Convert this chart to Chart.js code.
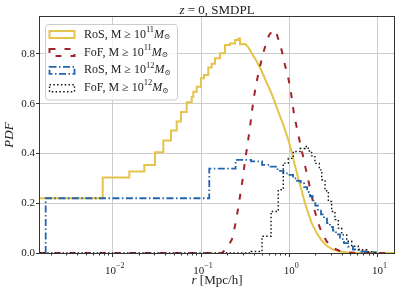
<!DOCTYPE html>
<html><head><meta charset="utf-8">
<script src="https://cdn.jsdelivr.net/npm/chart.js@4/dist/chart.umd.min.js"></script>
<style>html,body{margin:0;padding:0;background:#fff}#wrap{width:399px;height:290px}</style>
</head><body><div id="wrap"><canvas id="c" width="399" height="290"></canvas></div>
<script>
// ---- text ----
const chartTitleItalic = 'z';
const chartTitleRest = ' = 0, SMDPL';
const xLabelItalic = 'r';
const xLabelRest = ' [Mpc/h]';
const yLabel = 'PDF';
const legendNames = ['RoS', 'FoF', 'RoS', 'FoF'];
const legendExps = ['11', '11', '12', '12'];

// ---- ticks ----
const xTickValues = [0.01, 0.1, 1, 10];
const xTickExps = ['\u22122', '\u22121', '0', '1'];
const yTickValues = [0, 0.2, 0.4, 0.6, 0.8];

// ---- RoS, M >= 1e11 (step bins, then fine-binned part read as a curve) ----
const rosM11Edges = [0.0003, 0.0077, 0.01542, 0.0228, 0.03013, 0.03741, 0.04571, 0.05303, 0.05933, 0.06881, 0.07845, 0.08178, 0.08935, 0.1, 0.1081, 0.1209, 0.1322, 0.1441, 0.1642, 0.187, 0.213, 0.2425, 0.2644, 0.2768];
const rosM11Values = [0.22, 0.303, 0.327, 0.353, 0.405, 0.452, 0.492, 0.528, 0.566, 0.606, 0.628, 0.648, 0.668, 0.702, 0.715, 0.745, 0.76, 0.782, 0.802, 0.836, 0.842, 0.856, 0.862];
const rosM11CurveR = [0.2768, 0.315, 0.3403, 0.378, 0.420, 0.487, 0.545, 0.605, 0.671, 0.751, 0.855, 0.974, 1.065, 1.160, 1.264, 1.382, 1.506, 1.641, 1.793, 2.043, 2.327, 2.673, 3.125, 3.752, 4.623, 6.0, 20];
const rosM11CurveV = [0.838, 0.840, 0.828, 0.80, 0.775, 0.73, 0.69, 0.655, 0.615, 0.568, 0.515, 0.455, 0.405, 0.35, 0.30, 0.25, 0.20, 0.16, 0.12, 0.08, 0.05, 0.028, 0.014, 0.006, 0.002, 0, 0];

// ---- FoF, M >= 1e11 (fine bins, read as a curve) ----
const fofM11R = [0.001, 0.173, 0.182, 0.202, 0.224, 0.243, 0.262, 0.280, 0.299, 0.315, 0.336, 0.359, 0.378, 0.398, 0.431, 0.466, 0.504, 0.545, 0.590, 0.637, 0.689, 0.726, 0.764, 0.826, 0.893, 0.966, 1.044, 1.129, 1.221, 1.320, 1.428, 1.544, 1.670, 1.806, 1.953, 2.112, 2.344, 2.672, 3.125, 3.75, 4.62, 5.69, 20];
const fofM11V = [0, 0, 0.008, 0.025, 0.055, 0.11, 0.175, 0.24, 0.305, 0.37, 0.435, 0.505, 0.57, 0.628, 0.695, 0.75, 0.80, 0.842, 0.875, 0.89, 0.896, 0.876, 0.85, 0.81, 0.755, 0.71, 0.645, 0.56, 0.50, 0.445, 0.39, 0.335, 0.28, 0.225, 0.167, 0.122, 0.08, 0.045, 0.02, 0.008, 0.002, 0, 0];

// ---- RoS, M >= 1e12 (step bins) ----
const rosM12Edges = [0.00174, 0.124, 0.2465, 0.369, 0.4915, 0.614, 0.7365, 0.859, 0.9815, 1.104, 1.2265, 1.349, 1.4715, 1.594, 1.7165, 1.839, 1.970, 2.113, 2.286, 2.472, 2.673, 2.890, 3.126, 3.380, 3.75, 4.16, 4.62, 5.26, 6.32, 7.79, 9.59];
const rosM12Values = [0.22, 0.339, 0.374, 0.368, 0.354, 0.347, 0.33, 0.32, 0.314, 0.30, 0.29, 0.28, 0.265, 0.245, 0.228, 0.21, 0.19, 0.17, 0.155, 0.138, 0.12, 0.105, 0.09, 0.075, 0.056, 0.04, 0.026, 0.014, 0.006, 0.002];

// ---- FoF, M >= 1e12 (step bins) ----
const fofM12Edges = [0.001, 0.37, 0.491, 0.621, 0.750, 0.855, 0.974, 1.11, 1.32, 1.51, 1.64, 1.79, 1.95, 2.19, 2.33, 2.54, 2.77, 3.02, 3.29, 3.59, 3.92, 4.47, 5.09, 6.04, 7.53, 9.35];
const fofM12Values = [0, 0.006, 0.067, 0.167, 0.254, 0.361, 0.38, 0.408, 0.42, 0.428, 0.41, 0.39, 0.36, 0.334, 0.294, 0.25, 0.207, 0.167, 0.134, 0.1, 0.073, 0.047, 0.027, 0.013, 0.005];

// ---- styles ----
const FONT = "'Liberation Serif', 'DejaVu Serif', serif";
const seriesStyles = [
  {color: '#e5c44c', width: 2, dash: []},
  {color: '#a3232b', width: 2, dash: [6, 9]},
  {color: '#2464ae', width: 1.8, dash: [7, 2.5, 1.5, 2.5]},
  {color: '#111111', width: 1.4, dash: [1.5, 2.3]}
];

function stepPoints(edges, values, closeEnd) {
  const pts = [{x: edges[0], y: 0}];
  for (let i = 0; i < values.length; i++) {
    pts.push({x: edges[i], y: values[i]});
    pts.push({x: edges[i + 1], y: values[i]});
  }
  if (closeEnd) pts.push({x: edges[edges.length - 1], y: 0});
  return pts;
}
function curvePoints(rs, vs) { return rs.map((r, i) => ({x: r, y: vs[i]})); }

const seriesData = [
  stepPoints(rosM11Edges, rosM11Values, false).concat(curvePoints(rosM11CurveR, rosM11CurveV)),
  curvePoints(fofM11R, fofM11V),
  stepPoints(rosM12Edges, rosM12Values, true),
  stepPoints(fofM12Edges, fofM12Values, true)
];

const datasets = seriesData.map((d, i) => ({
  data: d,
  borderColor: seriesStyles[i].color,
  borderWidth: seriesStyles[i].width,
  borderDash: seriesStyles[i].dash,
  borderCapStyle: 'butt',
  borderJoinStyle: 'miter',
  pointRadius: 0,
  tension: 0,
  fill: false,
  order: 4 - i
}));

function isDecade(v) {
  const l = Math.log10(v);
  return Math.abs(l - Math.round(l)) < 1e-6;
}
function align(p) { return Math.round(p - 0.5) + 0.5; }

function drawRich(ctx, parts, x, y, mode) {
  let total = 0;
  parts.forEach(p => {
    ctx.font = (p.italic ? 'italic ' : '') + p.size + 'px ' + FONT;
    p.w = ctx.measureText(p.t).width;
    total += p.w;
  });
  let cx = mode === 'center' ? x - total / 2 : x;
  ctx.textBaseline = 'middle';
  ctx.textAlign = 'left';
  parts.forEach(p => {
    ctx.font = (p.italic ? 'italic ' : '') + p.size + 'px ' + FONT;
    ctx.fillText(p.t, cx, y + (p.dy || 0));
    cx += p.w;
  });
}

const decor = {
  id: 'decor',
  afterDraw(chart) {
    const {ctx, chartArea: a, scales} = chart;
    const xs = scales.x, ys = scales.y;
    ctx.save();
    // frame
    ctx.strokeStyle = '#333';
    ctx.lineWidth = 1;
    ctx.setLineDash([]);
    ctx.strokeRect(a.left - 0.5, a.top - 0.5, a.right - a.left + 1, a.bottom - a.top + 1);
    // y ticks
    ctx.beginPath();
    yTickValues.forEach(v => {
      const py = align(ys.getPixelForValue(v));
      ctx.moveTo(a.left - 0.5, py); ctx.lineTo(a.left - 4, py);
    });
    // x ticks (major + minor)
    for (let e = -4; e <= 2; e++) {
      for (let m = 1; m <= 9; m++) {
        const v = m * Math.pow(10, e);
        if (v < xs.min || v > xs.max) continue;
        const px = align(xs.getPixelForValue(v));
        ctx.moveTo(px, a.bottom + 0.5);
        ctx.lineTo(px, a.bottom + (m === 1 ? 4 : 2.5));
      }
    }
    ctx.stroke();
    // x tick labels
    ctx.fillStyle = '#222';
    xTickValues.forEach((v, i) => {
      drawRich(ctx, [{t: '10', size: 11}, {t: xTickExps[i], size: 8, dy: -5}], xs.getPixelForValue(v) + 2, 271, 'center');
    });
    // axis labels
    drawRich(ctx, [{t: xLabelItalic, size: 13, italic: true}, {t: xLabelRest, size: 13}], (a.left + a.right) / 2, 281, 'center');
    ctx.save();
    ctx.translate(10, (a.top + a.bottom) / 2);
    ctx.rotate(-Math.PI / 2);
    drawRich(ctx, [{t: yLabel, size: 13, italic: true}], 0, 0, 'center');
    ctx.restore();
    // title
    drawRich(ctx, [{t: chartTitleItalic, size: 13, italic: true}, {t: chartTitleRest, size: 13}], (a.left + a.right) / 2, 11, 'center');
    // legend
    ctx.beginPath();
    ctx.roundRect(45.5, 24.5, 132, 75.5, 3);
    ctx.fillStyle = 'rgba(255,255,255,0.8)';
    ctx.fill();
    ctx.strokeStyle = '#cccccc';
    ctx.lineWidth = 1;
    ctx.stroke();
    const rowY = [34.5, 52.5, 70.3, 88.2];
    legendNames.forEach((n, i) => {
      const s = seriesStyles[i];
      ctx.strokeStyle = s.color;
      ctx.lineWidth = s.width;
      ctx.setLineDash(s.dash);
      ctx.strokeRect(49.5, rowY[i] - 3.5, 25, 7);
      ctx.setLineDash([]);
      ctx.fillStyle = '#222';
      drawRich(ctx, [
        {t: n + ', M \u2265 10', size: 12},
        {t: legendExps[i], size: 8.5, dy: -5},
        {t: 'M', size: 12, italic: true},
        {t: '\u2299', size: 7.5, dy: 3}
      ], 84, rowY[i], 'left');
    });
    ctx.restore();
  }
};

new Chart(document.getElementById('c'), {
  type: 'line',
  data: {datasets: datasets},
  plugins: [decor],
  options: {
    responsive: false,
    animation: false,
    devicePixelRatio: 1,
    layout: {padding: {left: 0, right: 5, top: 17, bottom: 0}},
    plugins: {legend: {display: false}, title: {display: false}, tooltip: {enabled: false}},
    scales: {
      x: {
        type: 'logarithmic', min: 0.0015, max: 15.35,
        border: {display: false},
        grid: {color: c => (c.tick && isDecade(c.tick.value)) ? '#cccccc' : 'rgba(0,0,0,0)', lineWidth: 1, drawTicks: false},
        ticks: {display: false, autoSkip: false},
        afterFit: s => { s.height = 37; }
      },
      y: {
        type: 'linear', min: 0, max: 0.948,
        border: {display: false},
        grid: {color: c => (c.tick && c.tick.value === 0) ? 'rgba(0,0,0,0)' : '#cccccc', lineWidth: 1, drawTicks: false},
        ticks: {stepSize: 0.2, includeBounds: false, padding: 5, color: '#222', font: {family: FONT, size: 11}, callback: v => v.toFixed(1)},
        afterFit: s => { s.width = 40; }
      }
    }
  }
});
</script>
</body></html>
